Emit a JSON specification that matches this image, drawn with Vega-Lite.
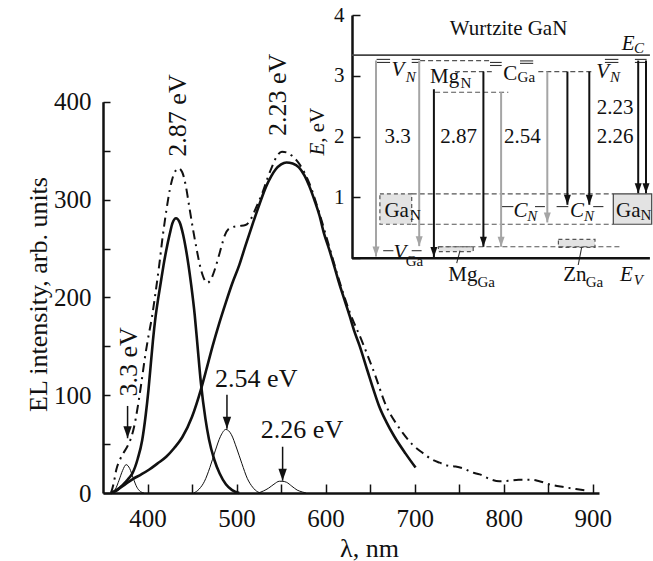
{
  "$schema": "https://vega.github.io/schema/vega-lite/v6.json",
  "width": 550,
  "height": 488,
  "autosize": {"type": "none"},
  "padding": {"left": 103, "top": 5, "right": 0, "bottom": 68},
  "background": "white",
  "config": {
    "view": {"stroke": null},
    "font": "Liberation Serif",
    "axis": {"labelFont": "Liberation Serif", "titleFont": "Liberation Serif", "grid": false, "labelColor": "#111", "titleColor": "#111", "domainColor": "#111", "tickColor": "#111", "titleFontWeight": "normal"},
    "text": {"font": "Liberation Serif", "color": "#111"}
  },
  "datasets": {
    "curves": [
      {"s":"a33","lam":360,"I":0},{"s":"a33","lam":364,"I":4},{"s":"a33","lam":368,"I":13},{"s":"a33","lam":372,"I":23},{"s":"a33","lam":376,"I":29},{"s":"a33","lam":380,"I":25},{"s":"a33","lam":384,"I":15},{"s":"a33","lam":388,"I":6},{"s":"a33","lam":392,"I":1.5},{"s":"a33","lam":396,"I":0},
      {"s":"a254","lam":452,"I":0},{"s":"a254","lam":458,"I":4},{"s":"a254","lam":464,"I":12},{"s":"a254","lam":470,"I":26},{"s":"a254","lam":476,"I":43},{"s":"a254","lam":482,"I":58},{"s":"a254","lam":488,"I":65},{"s":"a254","lam":494,"I":60},{"s":"a254","lam":500,"I":46},{"s":"a254","lam":506,"I":30},{"s":"a254","lam":512,"I":15},{"s":"a254","lam":518,"I":6},{"s":"a254","lam":524,"I":1},{"s":"a254","lam":528,"I":0},
      {"s":"a226","lam":524,"I":0},{"s":"a226","lam":530,"I":2},{"s":"a226","lam":536,"I":5},{"s":"a226","lam":542,"I":9},{"s":"a226","lam":548,"I":12},{"s":"a226","lam":551,"I":12},{"s":"a226","lam":556,"I":11},{"s":"a226","lam":562,"I":7},{"s":"a226","lam":568,"I":3},{"s":"a226","lam":574,"I":1},{"s":"a226","lam":578,"I":0},
      {"s":"a287","lam":359,"I":0},{"s":"a287","lam":366,"I":3},{"s":"a287","lam":372,"I":8},{"s":"a287","lam":378,"I":14},{"s":"a287","lam":383,"I":20},{"s":"a287","lam":389,"I":35},{"s":"a287","lam":394,"I":54},{"s":"a287","lam":398,"I":80},{"s":"a287","lam":401,"I":105},{"s":"a287","lam":404,"I":135},{"s":"a287","lam":406,"I":155},{"s":"a287","lam":409,"I":180},{"s":"a287","lam":412,"I":199},{"s":"a287","lam":415,"I":216},{"s":"a287","lam":418,"I":233},{"s":"a287","lam":421,"I":248},{"s":"a287","lam":425,"I":265},{"s":"a287","lam":428,"I":276},{"s":"a287","lam":432,"I":281},{"s":"a287","lam":436,"I":277},{"s":"a287","lam":440,"I":264},{"s":"a287","lam":443,"I":250},{"s":"a287","lam":446,"I":233},{"s":"a287","lam":449,"I":213},{"s":"a287","lam":453,"I":182},{"s":"a287","lam":456,"I":152},{"s":"a287","lam":460,"I":112},{"s":"a287","lam":465,"I":76},{"s":"a287","lam":469,"I":55},{"s":"a287","lam":475,"I":34},{"s":"a287","lam":481,"I":20},{"s":"a287","lam":488,"I":9},{"s":"a287","lam":495,"I":3},{"s":"a287","lam":503,"I":0},
      {"s":"a223","lam":359,"I":0},{"s":"a223","lam":365,"I":3},{"s":"a223","lam":372,"I":7},{"s":"a223","lam":383,"I":14},{"s":"a223","lam":393,"I":19},{"s":"a223","lam":402,"I":24},{"s":"a223","lam":411,"I":30},{"s":"a223","lam":421,"I":37},{"s":"a223","lam":430,"I":46},{"s":"a223","lam":439,"I":57},{"s":"a223","lam":450,"I":78},{"s":"a223","lam":460,"I":106},{"s":"a223","lam":466,"I":126},{"s":"a223","lam":473,"I":150},{"s":"a223","lam":480,"I":172},{"s":"a223","lam":488,"I":195},{"s":"a223","lam":495,"I":214},{"s":"a223","lam":503,"I":233},{"s":"a223","lam":510,"I":253},{"s":"a223","lam":518,"I":275},{"s":"a223","lam":526,"I":296},{"s":"a223","lam":533,"I":313},{"s":"a223","lam":539,"I":324},{"s":"a223","lam":544,"I":331},{"s":"a223","lam":550,"I":336},{"s":"a223","lam":556,"I":338},{"s":"a223","lam":563,"I":337},{"s":"a223","lam":570,"I":333},{"s":"a223","lam":576,"I":325},{"s":"a223","lam":582,"I":313},{"s":"a223","lam":588,"I":298},{"s":"a223","lam":593,"I":284},{"s":"a223","lam":598,"I":266},{"s":"a223","lam":604,"I":249},{"s":"a223","lam":610,"I":231},{"s":"a223","lam":615,"I":215},{"s":"a223","lam":621,"I":198},{"s":"a223","lam":627,"I":181},{"s":"a223","lam":632,"I":166},{"s":"a223","lam":638,"I":151},{"s":"a223","lam":647,"I":125},{"s":"a223","lam":654,"I":105},{"s":"a223","lam":660,"I":89},{"s":"a223","lam":668,"I":73},{"s":"a223","lam":677,"I":58},{"s":"a223","lam":690,"I":40},{"s":"a223","lam":701,"I":26},
      {"s":"total","lam":359,"I":0},{"s":"total","lam":362,"I":10},{"s":"total","lam":365,"I":24},{"s":"total","lam":369,"I":34},{"s":"total","lam":373,"I":41},{"s":"total","lam":377,"I":47},{"s":"total","lam":381,"I":55},{"s":"total","lam":385,"I":68},{"s":"total","lam":389,"I":88},{"s":"total","lam":393,"I":112},{"s":"total","lam":397,"I":138},{"s":"total","lam":401,"I":160},{"s":"total","lam":405,"I":180},{"s":"total","lam":409,"I":205},{"s":"total","lam":413,"I":232},{"s":"total","lam":417,"I":262},{"s":"total","lam":421,"I":288},{"s":"total","lam":425,"I":310},{"s":"total","lam":430,"I":327},{"s":"total","lam":435,"I":332},{"s":"total","lam":439,"I":328},{"s":"total","lam":443,"I":314},{"s":"total","lam":447,"I":292},{"s":"total","lam":451,"I":270},{"s":"total","lam":455,"I":250},{"s":"total","lam":459,"I":232},{"s":"total","lam":463,"I":220},{"s":"total","lam":467,"I":215},{"s":"total","lam":471,"I":218},{"s":"total","lam":475,"I":227},{"s":"total","lam":479,"I":239},{"s":"total","lam":483,"I":252},{"s":"total","lam":487,"I":264},{"s":"total","lam":491,"I":270},{"s":"total","lam":496,"I":272},{"s":"total","lam":503,"I":273},{"s":"total","lam":510,"I":274},{"s":"total","lam":516,"I":280},{"s":"total","lam":522,"I":292},{"s":"total","lam":529,"I":307},{"s":"total","lam":534,"I":320},{"s":"total","lam":540,"I":334},{"s":"total","lam":545,"I":344},{"s":"total","lam":551,"I":349},{"s":"total","lam":557,"I":348},{"s":"total","lam":562,"I":345},{"s":"total","lam":570,"I":337},{"s":"total","lam":582,"I":316},{"s":"total","lam":593,"I":286},{"s":"total","lam":604,"I":252},{"s":"total","lam":615,"I":218},{"s":"total","lam":627,"I":185},{"s":"total","lam":640,"I":157},{"s":"total","lam":655,"I":122},{"s":"total","lam":668,"I":89},{"s":"total","lam":680,"I":70},{"s":"total","lam":687,"I":61},{"s":"total","lam":697,"I":50},{"s":"total","lam":709,"I":41},{"s":"total","lam":720,"I":34},{"s":"total","lam":728,"I":31},{"s":"total","lam":737,"I":28},{"s":"total","lam":746,"I":27},{"s":"total","lam":755,"I":25},{"s":"total","lam":765,"I":21},{"s":"total","lam":773,"I":19},{"s":"total","lam":785,"I":14},{"s":"total","lam":795,"I":12},{"s":"total","lam":805,"I":12.5},{"s":"total","lam":817,"I":13.5},{"s":"total","lam":832,"I":13.5},{"s":"total","lam":840,"I":12},{"s":"total","lam":855,"I":8},{"s":"total","lam":868,"I":6},{"s":"total","lam":881,"I":4},{"s":"total","lam":896,"I":2}
    ],
    "mlabels": [
      {"lam":434.7,"I":386,"text":"2.87 eV","k":"rot"},
      {"lam":546.6,"I":407,"text":"2.23 eV","k":"rot"},
      {"lam":379.4,"I":134,"text":"3.3 eV","k":"rot"},
      {"lam":522.1,"I":117,"text":"2.54 eV","k":"hor"},
      {"lam":573.5,"I":64,"text":"2.26 eV","k":"hor"}
    ],
    "marrows": [
      {"lam":377.6,"I":56,"Itop":89},
      {"lam":489.2,"I":65.7,"Itop":100.5},
      {"lam":551.7,"I":12.6,"Itop":47.3}
    ],
    "ilines": [
      {"u":0,"u2":99.3,"E":0,"E2":0,"k":"frame"},
      {"u":0,"u2":99.3,"E":3.34,"E2":3.34,"k":"ec"},
      {"u":22.7,"u2":46,"E":3.25,"E2":3.25,"k":"dash"},
      {"u":34.3,"u2":46.6,"E":3.07,"E2":3.07,"k":"dash"},
      {"u":62.1,"u2":79.9,"E":3.07,"E2":3.07,"k":"dash"},
      {"u":27.7,"u2":52.1,"E":2.73,"E2":2.73,"k":"dash"},
      {"u":19.9,"u2":87.1,"E":1.06,"E2":1.06,"k":"dash"},
      {"u":19.9,"u2":87.1,"E":0.56,"E2":0.56,"k":"dash"},
      {"u":28.8,"u2":89.9,"E":0.19,"E2":0.19,"k":"dash"},
      {"u":49.9,"u2":53.8,"E":0.85,"E2":0.85,"k":"solid"},
      {"u":61,"u2":64.3,"E":0.85,"E2":0.85,"k":"solid"},
      {"u":68.2,"u2":72.1,"E":0.85,"E2":0.85,"k":"solid"},
      {"u":80.4,"u2":83.8,"E":0.85,"E2":0.85,"k":"solid"},
      {"u":10.4,"u2":13.8,"E":0.125,"E2":0.125,"k":"solid"},
      {"u":19.9,"u2":23.2,"E":0.125,"E2":0.125,"k":"solid"},
      {"u":8.2,"u2":12.7,"E":3.27,"E2":3.27,"k":"solid"},
      {"u":8.2,"u2":12.7,"E":3.22,"E2":3.22,"k":"solid"},
      {"u":19.9,"u2":22.7,"E":3.27,"E2":3.27,"k":"solid"},
      {"u":19.9,"u2":22.7,"E":3.22,"E2":3.22,"k":"solid"},
      {"u":46,"u2":49.9,"E":3.22,"E2":3.22,"k":"solid"},
      {"u":46,"u2":49.9,"E":3.17,"E2":3.17,"k":"solid"},
      {"u":56,"u2":60.4,"E":3.245,"E2":3.245,"k":"solid"},
      {"u":56,"u2":60.4,"E":3.205,"E2":3.205,"k":"solid"},
      {"u":84.3,"u2":88.8,"E":3.27,"E2":3.27,"k":"solid"},
      {"u":84.3,"u2":88.8,"E":3.22,"E2":3.22,"k":"solid"},
      {"u":94.3,"u2":98.2,"E":3.27,"E2":3.27,"k":"solid"},
      {"u":94.3,"u2":98.2,"E":3.22,"E2":3.22,"k":"solid"},
      {"u":34.9,"u2":36,"E":-0.08,"E2":0.125,"k":"solid"},
      {"u":75.4,"u2":76.6,"E":-0.11,"E2":0.19,"k":"solid"}
    ],
    "iboxes": [
      {"u":9.3,"u2":19.9,"E":0.56,"E2":1.06,"k":"dash"},
      {"u":87.1,"u2":99.9,"E":0.56,"E2":1.06,"k":"solid"},
      {"u":28.8,"u2":40.4,"E":0.11,"E2":0.19,"k":"dash"},
      {"u":68.8,"u2":81,"E":0.18,"E2":0.31,"k":"dash"}
    ],
    "iarrows": [
      {"u":8.0,"E":0.03,"Etop":3.25,"tone":"gray"},
      {"u":22.4,"E":0.2,"Etop":3.25,"tone":"gray"},
      {"u":27.3,"E":0.02,"Etop":2.78,"tone":"black"},
      {"u":43.8,"E":0.19,"Etop":3.07,"tone":"black"},
      {"u":49.7,"E":0.19,"Etop":2.73,"tone":"gray"},
      {"u":65.1,"E":0.59,"Etop":3.07,"tone":"gray"},
      {"u":71.8,"E":0.88,"Etop":3.07,"tone":"black"},
      {"u":79.1,"E":0.88,"Etop":3.07,"tone":"black"},
      {"u":95.4,"E":1.07,"Etop":3.25,"tone":"black"},
      {"u":98.0,"E":1.07,"Etop":3.25,"tone":"black"}
    ],
    "itext": [
      {"u":52.2,"E":3.67,"text":"Wurtzite GaN","k":"c"},
      {"u":15.2,"E":1.9,"text":"3.3","k":"c"},
      {"u":35.5,"E":1.9,"text":"2.87","k":"c"},
      {"u":56.8,"E":1.9,"text":"2.54","k":"c"},
      {"u":87.7,"E":2.38,"text":"2.23","k":"c"},
      {"u":87.7,"E":1.9,"text":"2.26","k":"c"},
      {"u":26,"E":2.88,"text":"Mg","k":"p"},
      {"u":50.4,"E":2.93,"text":"C","k":"p"},
      {"u":10.8,"E":0.68,"text":"Ga","k":"p"},
      {"u":88,"E":0.68,"text":"Ga","k":"p"},
      {"u":32.1,"E":-0.38,"text":"Mg","k":"p"},
      {"u":70.4,"E":-0.38,"text":"Zn","k":"p"},
      {"u":89.9,"E":3.43,"text":"E","k":"i"},
      {"u":89.3,"E":-0.37,"text":"E","k":"i"},
      {"u":13.2,"E":3.0,"text":"V","k":"i"},
      {"u":81.4,"E":2.97,"text":"V","k":"i"},
      {"u":53.8,"E":0.68,"text":"C","k":"i"},
      {"u":72.7,"E":0.68,"text":"C","k":"i"},
      {"u":13.8,"E":-0.01,"text":"V","k":"i"},
      {"u":36.2,"E":2.8,"text":"N","k":"s"},
      {"u":55.2,"E":2.9,"text":"Ga","k":"s"},
      {"u":19.3,"E":0.63,"text":"N","k":"s"},
      {"u":96.2,"E":0.63,"text":"N","k":"s"},
      {"u":17.9,"E":-0.13,"text":"Ga","k":"s"},
      {"u":41.8,"E":-0.47,"text":"Ga","k":"s"},
      {"u":77.9,"E":-0.47,"text":"Ga","k":"s"},
      {"u":94,"E":3.38,"text":"C","k":"si"},
      {"u":93.9,"E":-0.44,"text":"V","k":"si"},
      {"u":17.9,"E":2.9,"text":"N","k":"si"},
      {"u":86,"E":2.9,"text":"N","k":"si"},
      {"u":58.4,"E":0.61,"text":"N","k":"si"},
      {"u":77.3,"E":0.61,"text":"N","k":"si"},
      {"u":-9.4,"E":1.9,"text":"E","k":"yt1"},
      {"u":-9.4,"E":1.9,"text":", eV","k":"yt2"}
    ]
  },
  "resolve": {"scale": {"x": "independent", "y": "independent"}, "axis": {"x": "independent", "y": "independent"}},
  "layer": [
    {
      "encoding": {
        "x": {"field": "lam", "type": "quantitative", "title": "λ, nm",
          "scale": {"domain": [350, 907], "range": [0, 496], "nice": false, "zero": false},
          "axis": {"values": [400,450,500,550,600,650,700,750,800,850,900], "labelExpr": "datum.value % 100 === 0 ? datum.label : ''", "tickSize": -9, "tickWidth": 1.5, "domainWidth": 2.5, "labelFontSize": 25, "labelPadding": 22, "labelFlush": false, "titleFontSize": 26, "titleX": 266, "titleY": 63, "titleBaseline": "alphabetic", "titleAlign": "center"}},
        "y": {"field": "I", "type": "quantitative", "title": "EL intensity, arb. units",
          "scale": {"domain": [0, 400], "range": [488, 96.8], "nice": false, "zero": false},
          "axis": {"values": [0,50,100,150,200,250,300,350,400], "labelExpr": "datum.value % 100 === 0 ? datum.label : ''", "tickSize": -7, "tickWidth": 1.5, "domainWidth": 2.5, "labelFontSize": 25, "labelPadding": 19, "labelFlush": false, "titleFontSize": 26, "titleX": -65, "titleY": 289, "titleAngle": 270, "titleBaseline": "middle", "titleAlign": "center"}}
      },
      "layer": [
        {"data": {"name": "curves"}, "transform": [{"filter": "indexof(['a33','a254','a226'], datum.s) >= 0"}],
          "mark": {"type": "line", "interpolate": "monotone", "color": "#111", "strokeWidth": 1}, "encoding": {"detail": {"field": "s"}}},
        {"data": {"name": "curves"}, "transform": [{"filter": "indexof(['a287','a223'], datum.s) >= 0"}],
          "mark": {"type": "line", "interpolate": "monotone", "color": "#111", "strokeWidth": 2.6}, "encoding": {"detail": {"field": "s"}}},
        {"data": {"name": "curves"}, "transform": [{"filter": "datum.s == 'total'"}],
          "mark": {"type": "line", "interpolate": "monotone", "color": "#111", "strokeWidth": 2, "strokeDash": [9, 5, 2, 5]}},
        {"data": {"name": "marrows"}, "mark": {"type": "rule", "color": "#111", "strokeWidth": 1.5}, "encoding": {"y2": {"field": "Itop"}}},
        {"data": {"name": "marrows"}, "mark": {"type": "point", "shape": "M-0.35,-1L0.35,-1L0,0Z", "size": 576, "filled": true, "color": "#111", "opacity": 1}},
        {"data": {"name": "mlabels"}, "transform": [{"filter": "datum.k == 'rot'"}],
          "mark": {"type": "text", "font": "Liberation Serif", "angle": 270, "fontSize": 26, "align": "center", "baseline": "middle"}, "encoding": {"text": {"field": "text"}}},
        {"data": {"name": "mlabels"}, "transform": [{"filter": "datum.k == 'hor'"}],
          "mark": {"type": "text", "font": "Liberation Serif", "fontSize": 26, "align": "center", "baseline": "middle"}, "encoding": {"text": {"field": "text"}}}
      ]
    },
    {
      "encoding": {
        "x": {"field": "u", "type": "quantitative", "scale": {"domain": [0, 100], "range": [249, 549], "nice": false, "zero": false}, "axis": null},
        "y": {"field": "E", "type": "quantitative", "scale": {"domain": [0, 4], "range": [253.3, 10], "nice": false, "zero": false},
          "axis": {"orient": "left", "offset": -249, "values": [0,1,2,3,4], "labelExpr": "datum.value > 0 ? datum.label : ''", "tickSize": -8, "tickWidth": 1.5, "domainWidth": 2.5, "labelFontSize": 21, "labelPadding": 16, "labelFlush": false, "title": null}}
      },
      "layer": [
        {"data": {"name": "iboxes"}, "transform": [{"filter": "datum.k == 'dash'"}],
          "mark": {"type": "rect", "fill": "#e3e3e3", "stroke": "#555", "strokeDash": [4, 3], "strokeWidth": 1.2},
          "encoding": {"x2": {"field": "u2"}, "y2": {"field": "E2"}}},
        {"data": {"name": "iboxes"}, "transform": [{"filter": "datum.k == 'solid'"}],
          "mark": {"type": "rect", "fill": "#e3e3e3", "stroke": "#444", "strokeWidth": 1.2},
          "encoding": {"x2": {"field": "u2"}, "y2": {"field": "E2"}}},
        {"data": {"name": "ilines"}, "transform": [{"filter": "datum.k == 'dash'"}],
          "mark": {"type": "rule", "color": "#555", "strokeWidth": 1.2, "strokeDash": [5, 3]},
          "encoding": {"x2": {"field": "u2"}, "y2": {"field": "E2"}}},
        {"data": {"name": "ilines"}, "transform": [{"filter": "datum.k == 'solid'"}],
          "mark": {"type": "rule", "color": "#333", "strokeWidth": 1.1},
          "encoding": {"x2": {"field": "u2"}, "y2": {"field": "E2"}}},
        {"data": {"name": "ilines"}, "transform": [{"filter": "datum.k == 'ec'"}],
          "mark": {"type": "rule", "color": "#444", "strokeWidth": 1.8},
          "encoding": {"x2": {"field": "u2"}, "y2": {"field": "E2"}}},
        {"data": {"name": "ilines"}, "transform": [{"filter": "datum.k == 'frame'"}],
          "mark": {"type": "rule", "color": "#111", "strokeWidth": 2.5},
          "encoding": {"x2": {"field": "u2"}, "y2": {"field": "E2"}}},
        {"data": {"name": "iarrows"}, "mark": {"type": "rule", "strokeWidth": 2},
          "encoding": {"y2": {"field": "Etop"}, "color": {"field": "tone", "type": "nominal", "scale": {"domain": ["black", "gray"], "range": ["#111", "#a5a5a5"]}, "legend": null}}},
        {"data": {"name": "iarrows"}, "mark": {"type": "point", "shape": "M-0.35,-1L0.35,-1L0,0Z", "size": 400, "filled": true, "opacity": 1},
          "encoding": {"color": {"field": "tone", "type": "nominal", "scale": {"domain": ["black", "gray"], "range": ["#111", "#a5a5a5"]}, "legend": null}}},
        {"data": {"name": "itext"}, "transform": [{"filter": "datum.k == 'c'"}],
          "mark": {"type": "text", "font": "Liberation Serif", "fontSize": 21, "align": "center", "baseline": "alphabetic"}, "encoding": {"text": {"field": "text"}}},
        {"data": {"name": "itext"}, "transform": [{"filter": "datum.k == 'p'"}],
          "mark": {"type": "text", "font": "Liberation Serif", "fontSize": 21, "align": "left", "baseline": "alphabetic"}, "encoding": {"text": {"field": "text"}}},
        {"data": {"name": "itext"}, "transform": [{"filter": "datum.k == 'i'"}],
          "mark": {"type": "text", "font": "Liberation Serif", "fontSize": 21, "fontStyle": "italic", "align": "left", "baseline": "alphabetic"}, "encoding": {"text": {"field": "text"}}},
        {"data": {"name": "itext"}, "transform": [{"filter": "datum.k == 's'"}],
          "mark": {"type": "text", "font": "Liberation Serif", "fontSize": 15, "align": "left", "baseline": "alphabetic"}, "encoding": {"text": {"field": "text"}}},
        {"data": {"name": "itext"}, "transform": [{"filter": "datum.k == 'si'"}],
          "mark": {"type": "text", "font": "Liberation Serif", "fontSize": 15, "fontStyle": "italic", "align": "left", "baseline": "alphabetic"}, "encoding": {"text": {"field": "text"}}},
        {"data": {"name": "itext"}, "transform": [{"filter": "datum.k == 'yt1'"}],
          "mark": {"type": "text", "font": "Liberation Serif", "fontSize": 21, "fontStyle": "italic", "angle": 270, "align": "right", "baseline": "alphabetic"}, "encoding": {"text": {"field": "text"}}},
        {"data": {"name": "itext"}, "transform": [{"filter": "datum.k == 'yt2'"}],
          "mark": {"type": "text", "font": "Liberation Serif", "fontSize": 21, "angle": 270, "align": "left", "baseline": "alphabetic"}, "encoding": {"text": {"field": "text"}}}
      ]
    }
  ]
}
